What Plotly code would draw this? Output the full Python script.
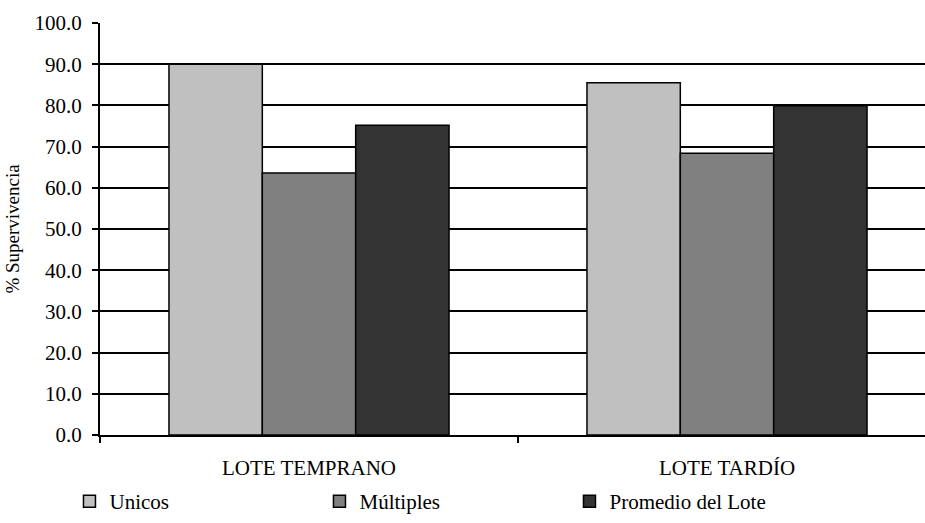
import plotly.graph_objects as go

categories = ["LOTE TEMPRANO", "LOTE TARDÍO"]
series_names = ["Unicos", "Múltiples", "Promedio del Lote"]
unicos = [90.0, 85.5]
multiples = [63.6, 68.4]
promedio = [75.2, 79.9]
colors = ["#C0C0C0", "#808080", "#333333"]
y_ticks = [0, 10, 20, 30, 40, 50, 60, 70, 80, 90, 100]
y_tick_labels = [f"{v:.1f}" for v in y_ticks]

FONT = "Liberation Serif"

fig = go.Figure()
for name, vals, col in zip(series_names, [unicos, multiples, promedio], colors):
    fig.add_trace(go.Bar(
        x=categories, y=vals, name=name,
        marker=dict(color=col, line=dict(color="black", width=1.5)),
    ))

fig.update_layout(
    width=925, height=523,
    margin=dict(l=100, r=0, t=23, b=88),
    plot_bgcolor="white", paper_bgcolor="white",
    barmode="group", bargap=0.33, bargroupgap=0,
    font=dict(family=FONT, color="black", size=21),
    legend=dict(
        orientation="h", x=-0.037, y=-0.2112, xanchor="left", yanchor="bottom",
        font=dict(family=FONT, size=21, color="black"),
        entrywidth=205, entrywidthmode="pixels",
        itemwidth=30, bgcolor="rgba(0,0,0,0)", traceorder="normal",
    ),
    showlegend=True,
)

fig.update_yaxes(
    range=[0, 100], tickvals=y_ticks, ticktext=y_tick_labels,
    tickfont=dict(family=FONT, size=21),
    showgrid=True, gridcolor="black", gridwidth=2,
    showline=True, linecolor="black", linewidth=2,
    ticks="outside", ticklen=6, tickwidth=2, tickcolor="black",
    ticklabelstandoff=6,
    zeroline=False,
    title=dict(text="% Supervivencia", font=dict(family=FONT, size=19), standoff=10),
)
fig.update_xaxes(
    type="category", range=[-0.5, 1.5 - 11 / 418],
    tickfont=dict(family=FONT, size=21),
    showline=True, linecolor="black", linewidth=2,
    ticks="outside", tickson="boundaries", ticklen=6, tickwidth=2, tickcolor="black",
    ticklabelstandoff=13,
    showgrid=False,
)

fig.write_html("out.html")
